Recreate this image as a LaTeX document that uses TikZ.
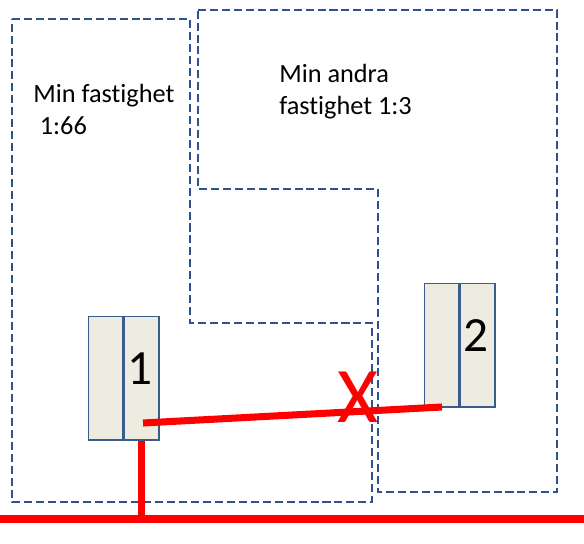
\documentclass[tikz,border=0pt]{standalone}
\usepackage{fontspec}
\setmainfont{Carlito}[Ligatures=NoCommon]
\usetikzlibrary{positioning}
\definecolor{gransbla}{RGB}{47,82,143}
\definecolor{matarfyll}{RGB}{238,236,225}
\definecolor{matarkant}{RGB}{56,93,138}
\tikzset{
  grans/.style={draw=gransbla, line width=1.1pt, dash pattern=on 5.7pt off 2.8pt},
  matare/.style={rectangle, draw=matarkant, fill=matarfyll, line width=1pt, inner sep=0pt, minimum width=0.86cm, minimum height=3.08cm},
  kabel/.style={draw=red, line width=5pt},
  etikett/.style={inner sep=0pt, align=left, font=\fontsize{18.7}{22.5}\selectfont},
  siffra/.style={inner sep=0pt, font=\fontsize{35}{40}\selectfont},
  kryss/.style={inner sep=0pt, text=red, font=\fontsize{56}{60}\selectfont}
}
\begin{document}
\begin{tikzpicture}[x=0.025cm, y=-0.025cm]
	\useasboundingbox (0,0) rectangle (584,544);
	% tomtgränser
	\draw[grans] (12,19) -- (190,19) -- (190,323) -- (372,323) -- (372,502) -- (12,502) -- cycle;
	\draw[grans] (198,10) -- (557,10) -- (557,492) -- (378,492) -- (378,189) -- (198,189) -- cycle;
	\node[etikett, anchor=north west] (txt1) at (33,84) {Min fastighet\\\hspace{0.25em}1:66};
	\node[etikett, anchor=north west] (txt2) at (279,64) {Min andra\\fastighet 1:3};

	% mätarskåp
	\node[matare, anchor=north west] (m1v) at (88,316) {};
	\node[matare, right=0pt of m1v] (m1h) {};
	\node[matare, anchor=north west] (m2v) at (424,283) {};
	\node[matare, right=0pt of m2v] (m2h) {};

	% kablar
	\coordinate (k1) at (143,423);
	\coordinate (k2) at (442,407);
	\coordinate (gv) at (0,519);
	\coordinate (gh) at (584,519);
	\draw[kabel] (k1) -- (k2);
	\draw[kabel] (m1h.south) -- (m1h.south |- gv);
	\draw[kabel] (gv) -- (gh);

	\node[siffra] (n1) at (140,369) {1};
	\node[siffra] (n2) at (476,336) {2};
	\node[kryss] (x) at (358,397) {X};
\end{tikzpicture}
\end{document}
